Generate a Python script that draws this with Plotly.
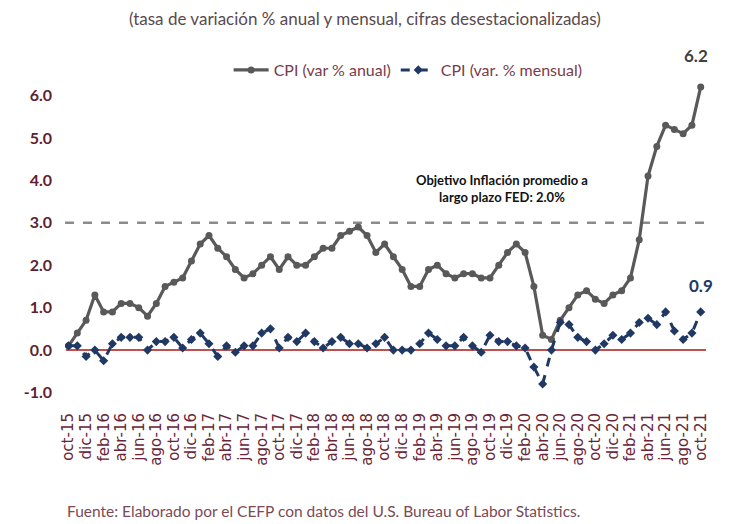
import plotly.graph_objects as go

mes_abbr = ["ene", "feb", "mar", "abr", "may", "jun", "jul", "ago", "sep", "oct", "nov", "dic"]
months = []
for yr in range(15, 22):
    for i, m in enumerate(mes_abbr):
        if (yr == 15 and i < 9) or (yr == 21 and i > 9):
            continue
        months.append(f"{m}-{yr}")

cpi_anual = [
    0.1, 0.4, 0.7,
    1.3, 0.9, 0.9, 1.1, 1.1, 1.0, 0.8, 1.1, 1.5, 1.6, 1.7, 2.1,
    2.5, 2.7, 2.4, 2.2, 1.9, 1.7, 1.8, 2.0, 2.2, 1.9, 2.2, 2.0,
    2.0, 2.2, 2.4, 2.4, 2.7, 2.8, 2.9, 2.7, 2.3, 2.5, 2.2, 1.9,
    1.5, 1.5, 1.9, 2.0, 1.8, 1.7, 1.8, 1.8, 1.7, 1.7, 2.0, 2.3,
    2.5, 2.3, 1.5, 0.35, 0.25, 0.7, 1.0, 1.3, 1.4, 1.2, 1.1, 1.3,
    1.4, 1.7, 2.6, 4.1, 4.8, 5.3, 5.2, 5.1, 5.3, 6.2,
]

cpi_mensual = [
    0.1, 0.1, -0.15,
    0.0, -0.25, 0.15, 0.3, 0.3, 0.3, 0.0, 0.2, 0.2, 0.3, 0.05, 0.25,
    0.4, 0.15, -0.15, 0.1, -0.05, 0.1, 0.1, 0.4, 0.5, 0.05, 0.3, 0.2,
    0.4, 0.2, 0.05, 0.2, 0.3, 0.15, 0.15, 0.05, 0.15, 0.3, 0.0, 0.0,
    0.0, 0.15, 0.4, 0.25, 0.1, 0.1, 0.3, 0.1, -0.05, 0.35, 0.2, 0.2,
    0.1, 0.05, -0.4, -0.8, 0.0, 0.65, 0.6, 0.3, 0.2, 0.0, 0.15, 0.35,
    0.25, 0.4, 0.65, 0.75, 0.6, 0.9, 0.45, 0.25, 0.4, 0.9,
]

tick_labels = months[::2]
y_ticks = [-1, 0, 1, 2, 3, 4, 5, 6]
objetivo = 3.0

MAROON = "#5e1f2e"
GRAY = "#595959"
NAVY = "#1f3864"
FONT = "Lato"

L, R, T, B = 64.5, 16.8, 69.5, 123
PW = 730 - L - R
PH = 524 - T - B

fig = go.Figure()
fig.add_trace(go.Scatter(
    x=months, y=cpi_anual, mode="lines+markers", name="CPI (var % anual)",
    line=dict(color=GRAY, width=3.2), marker=dict(symbol="circle", size=7, color=GRAY),
))
fig.add_trace(go.Scatter(
    x=months, y=cpi_mensual, mode="lines+markers", name="CPI (var. % mensual)",
    line=dict(color=NAVY, width=3, dash="dash"), marker=dict(symbol="diamond", size=7, color=NAVY),
))

# target line and zero line
fig.add_shape(type="line", xref="x", yref="y", x0=-0.4, x1=73.4, y0=objetivo, y1=objetivo,
              line=dict(color="#8c8c8c", width=2.5, dash="dash"), layer="below")
fig.add_shape(type="line", xref="x", yref="y", x0=-0.3, x1=72.6, y0=0, y1=0,
              line=dict(color="#c0504d", width=2), layer="below")

fig.add_annotation(x=months[-1], y=cpi_anual[-1], text="<b>6.2</b>", showarrow=False,
                   yshift=31, xshift=-5, font=dict(family=FONT, size=17, color="#404040"))
fig.add_annotation(x=months[-1], y=cpi_mensual[-1], text="<b>0.9</b>", showarrow=False,
                   yshift=26, xshift=0, font=dict(family=FONT, size=17, color=NAVY))
fig.add_annotation(x=months[50], y=3.8, text="<b>Objetivo Inflación promedio a<br>largo plazo FED: 2.0%</b>",
                   showarrow=False, xshift=-6, font=dict(family=FONT, size=13, color="#111111"))

fig.add_annotation(xref="paper", yref="paper", x=(365 - L) / PW, y=1.0, yanchor="middle",
                   yshift=T - 18, text="(tasa de variación % anual y mensual, cifras desestacionalizadas)",
                   showarrow=False, font=dict(family=FONT, size=17, color="#5a4a4e"))
fig.add_annotation(xref="paper", yref="paper", x=0.0, xanchor="left", y=0, yanchor="middle",
                   yshift=-(511 - (524 - B)),
                   text="Fuente: Elaborado por el CEFP con datos del U.S. Bureau of Labor Statistics.",
                   showarrow=False, font=dict(family=FONT, size=15.5, color="#7a4a55"))

fig.update_layout(
    width=730, height=524,
    margin=dict(l=L, r=R, t=T, b=B),
    paper_bgcolor="white", plot_bgcolor="white",
    showlegend=True,
    legend=dict(orientation="h", x=(408 - L) / PW, xanchor="center", y=1.0, yanchor="middle",
                yref="paper", font=dict(family=FONT, size=16, color="#7a3b4a"),
                bgcolor="rgba(0,0,0,0)", itemwidth=35),
    xaxis=dict(type="category", range=[-0.4, 73.4], tickmode="array", tickvals=tick_labels,
               ticktext=tick_labels, tickangle=-90, showgrid=False, zeroline=False,
               showline=False, ticks="", ticklabelstandoff=8,
               tickfont=dict(family="DejaVu Sans", size=15, color="#6a2638")),
    yaxis=dict(range=[-1.2, 6.6], tickmode="array", tickvals=y_ticks,
               ticktext=[f"<b>{v:.1f}</b>" for v in y_ticks], showgrid=False,
               zeroline=False, showline=False, ticks="", ticklabelstandoff=12,
               tickfont=dict(family=FONT, size=16, color=MAROON)),
)

fig.write_html("out.html", config={"displayModeBar": False},
               post_script="document.body.style.margin='0px';")
